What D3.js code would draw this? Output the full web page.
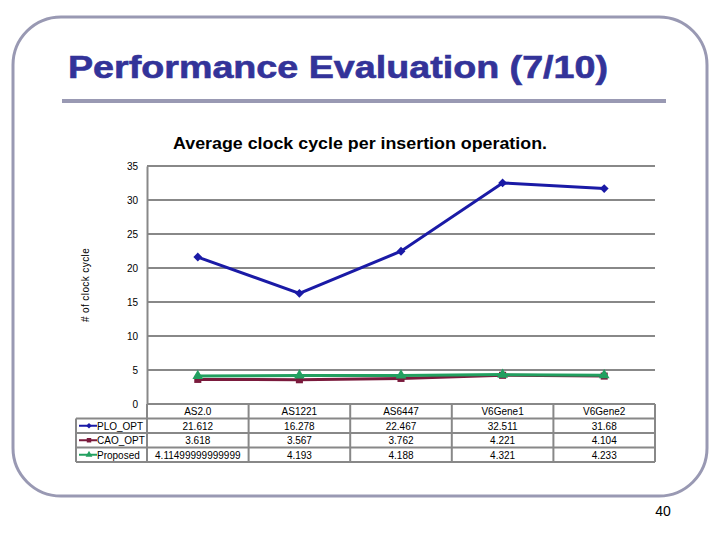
<!DOCTYPE html>
<html><head><meta charset="utf-8">
<script src="https://cdn.jsdelivr.net/npm/d3@7"></script>
<style>body{margin:0;background:#fff}svg{display:block}text{font-family:"Liberation Sans",Arial,sans-serif}</style>
</head><body>
<svg id="c" width="720" height="540"></svg>
<script>
const categories = ["AS2.0","AS1221","AS6447","V6Gene1","V6Gene2"];
const seriesNames = ["PLO_OPT","CAO_OPT","Proposed"];
const ploOpt = [21.612, 16.278, 22.467, 32.511, 31.68];
const caoOpt = [3.618, 3.567, 3.762, 4.221, 4.104];
const proposed = [4.11499999999999, 4.193, 4.188, 4.321, 4.233];
const tableLabels = [
  ["21.612","16.278","22.467","32.511","31.68"],
  ["3.618","3.567","3.762","4.221","4.104"],
  ["4.11499999999999","4.193","4.188","4.321","4.233"]
];
const yTicks = [0,5,10,15,20,25,30,35];

const svg = d3.select("#c");
// slide frame
svg.append("rect").attr("x",13).attr("y",17).attr("width",694).attr("height",479)
  .attr("rx",48).attr("ry",48).attr("fill","none").attr("stroke","#9999b3").attr("stroke-width",3);
svg.append("text").attr("x",68).attr("y",78).attr("fill","#333399")
  .attr("font-size",31).attr("font-weight","bold").attr("stroke","#333399").attr("stroke-width",0.6)
  .attr("textLength",540).attr("lengthAdjust","spacingAndGlyphs").text("Performance Evaluation (7/10)");
svg.append("rect").attr("x",62).attr("y",99).attr("width",604).attr("height",4).attr("fill","#9999b3");
svg.append("text").attr("x",663).attr("y",516).attr("font-size",14).attr("text-anchor","middle").attr("fill","#000").text("40");

svg.append("text").attr("x",173).attr("y",149)
  .attr("font-size",17).attr("font-weight","bold")
  .attr("textLength",374).attr("lengthAdjust","spacingAndGlyphs").text("Average clock cycle per insertion operation.");

const L=147, R=655, T=166, B=404;
const x = d3.scaleBand().domain(categories).range([L,R]);
const y = d3.scaleLinear().domain([0,35]).range([B,T]);
const cx = c => x(c)+x.bandwidth()/2;

// gridlines
svg.append("g").selectAll("line").data(yTicks.filter(d=>d>0)).join("line")
  .attr("x1",L).attr("x2",R).attr("y1",d=>y(d)).attr("y2",d=>y(d))
  .attr("stroke","#888").attr("stroke-width",2);
// y axis
const ya = svg.append("g").attr("transform",`translate(${L},0)`)
  .call(d3.axisLeft(y).tickValues(yTicks).tickSize(0).tickPadding(9));
ya.select(".domain").attr("stroke","#888").attr("stroke-width",2);
ya.selectAll("text").attr("font-size",10).attr("fill","#000").attr("font-family","Liberation Sans, Arial");
svg.append("text").attr("transform","translate(89,285) rotate(-90)").attr("text-anchor","middle")
  .attr("font-size",10).attr("letter-spacing",0.4).text("# of clock cycle");

// table
const rowH = 14.5;
const colors = ["#1a1aa6","#7a1a3c","#22a060"];
const tbl = svg.append("g");
const stroke = "#888";
for (let i=0;i<=4;i++){
  const yy = B + i*rowH;
  tbl.append("line").attr("x1", i===0?L:76).attr("x2",R).attr("y1",yy).attr("y2",yy)
    .attr("stroke",stroke).attr("stroke-width",2);
}
categories.forEach((c,i)=>{
  tbl.append("line").attr("x1",x(c)).attr("x2",x(c)).attr("y1",B).attr("y2",B+4*rowH).attr("stroke",stroke).attr("stroke-width",2);
});
tbl.append("line").attr("x1",R).attr("x2",R).attr("y1",B).attr("y2",B+4*rowH).attr("stroke",stroke).attr("stroke-width",2);
tbl.append("line").attr("x1",76).attr("x2",76).attr("y1",B+rowH).attr("y2",B+4*rowH).attr("stroke",stroke).attr("stroke-width",2);
tbl.selectAll("text.h").data(categories).join("text").attr("class","h")
  .attr("x",d=>cx(d)).attr("y",B+rowH-3.5).attr("text-anchor","middle").attr("font-size",10).text(d=>d);
tableLabels.forEach((row,ri)=>{
  const yy = B+(ri+2)*rowH-3.5;
  tbl.selectAll("text.r"+ri).data(row).join("text").attr("class","r"+ri)
    .attr("x",(d,i)=>cx(categories[i])).attr("y",yy).attr("text-anchor","middle").attr("font-size",10).text(d=>d);
  tbl.append("text").attr("x",97).attr("y",yy).attr("font-size",10).text(seriesNames[ri]);
  const ky = B+(ri+1.5)*rowH;
  tbl.append("line").attr("x1",79).attr("x2",97).attr("y1",ky).attr("y2",ky).attr("stroke",colors[ri]).attr("stroke-width",2);
  tbl.append("path").attr("transform",`translate(89,${ky})`).attr("fill",colors[ri])
    .attr("d",d3.symbol().type([d3.symbolDiamond2,d3.symbolSquare,d3.symbolTriangle][ri]).size(20)());
});

// series
const data = [ploOpt, caoOpt, proposed];
const symbols = [d3.symbolDiamond2, d3.symbolSquare, d3.symbolTriangle];
const order = [1,2,0];
order.forEach(si=>{
  const vals = data[si];
  const line = d3.line().x((d,i)=>cx(categories[i])).y(d=>y(d));
  svg.append("path").datum(vals).attr("d",line).attr("fill","none")
    .attr("stroke",colors[si]).attr("stroke-width",3);
  svg.append("g").selectAll("path").data(vals).join("path")
    .attr("transform",(d,i)=>`translate(${cx(categories[i])},${y(d)})`)
    .attr("fill",colors[si]).attr("d",d3.symbol().type(symbols[si]).size(50)());
});
</script>
</body></html>
